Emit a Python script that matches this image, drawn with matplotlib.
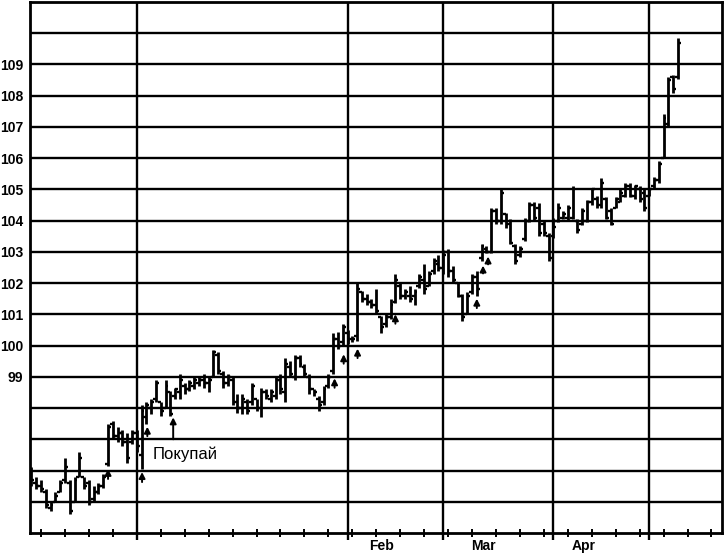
import matplotlib.pyplot as plt

# daily OHLC (day 0 = first bar)
opens = [95.9, 95.6, 95.5, 95.3, 94.8, 95.0, 95.3, 95.7, 95.6, 95.0,
         95.8, 95.8, 95.6, 95.1, 95.3, 95.5, 96.2, 97.5, 97.1, 97.2,
         96.9, 96.9, 97.2, 96.5, 97.7, 98.0, 98.3, 98.2, 98.0, 98.5,
         98.4, 98.5, 98.7, 98.6, 98.7, 98.8, 98.9, 98.8, 99.0, 99.7,
         99.1, 98.8, 98.9, 98.2, 98.0, 98.2, 98.2, 98.3, 98.0, 98.5,
         98.3, 98.4, 98.9, 98.5, 99.3, 99.0, 99.6, 99.3, 99.0, 98.6,
         98.3, 98.2, 98.7, 99.2, 100.2, 100.1, 100.4, 100.2, 100.3, 101.7,
         101.5, 101.4, 101.3, 100.9, 100.7, 100.9, 101.4, 101.9, 101.6, 101.6,
         101.6, 101.9, 102.1, 101.9, 102.4, 102.6, 102.5, 103.0, 102.4, 102.0,
         101.6, 101.0, 101.7, 102.2, 102.8, 103.1, 103.0, 104.3, 104.0, 104.2,
         103.9, 103.2, 102.9, 103.4, 104.0, 104.5, 104.4, 103.9, 103.5, 103.5,
         104.0, 104.1, 104.1, 104.1, 104.0, 103.9, 104.0, 104.6, 104.7, 104.5,
         104.7, 104.3, 104.4, 104.6, 104.8, 105.1, 104.8, 105.0, 104.9, 104.8,
         105.1, 105.3, 106.0, 107.1, 108.6, 108.6]
highs = [96.1, 95.8, 95.7, 95.4, 95.0, 95.3, 95.7, 96.4, 95.7, 95.8,
         96.6, 95.8, 95.7, 95.5, 95.6, 95.9, 97.5, 97.6, 97.4, 97.3,
         97.2, 97.3, 97.3, 98.1, 98.2, 98.3, 98.9, 98.2, 98.9, 98.55,
         98.65, 99.1, 98.8, 98.9, 99.0, 99.0, 99.1, 99.0, 99.85, 99.8,
         99.2, 99.1, 99.0, 98.45, 98.45, 98.3, 98.8, 98.3, 98.65, 98.6,
         98.6, 99.0, 99.1, 99.6, 99.5, 99.7, 99.7, 99.4, 99.1, 98.6,
         98.4, 98.7, 99.1, 100.4, 100.45, 100.7, 100.5, 100.3, 102.0, 101.75,
         101.65, 101.5, 101.8, 100.95, 101.0, 101.5, 102.3, 102.0, 101.8, 101.9,
         101.8, 102.3, 102.6, 102.4, 102.8, 102.9, 103.05, 103.1, 102.55, 102.0,
         101.65, 101.7, 102.3, 102.4, 103.25, 103.2, 104.4, 104.4, 105.05, 104.25,
         104.05, 103.25, 103.2, 104.1, 104.6, 104.6, 104.55, 104.0, 103.6, 104.1,
         104.55, 104.3, 104.5, 105.1, 104.05, 104.4, 104.65, 105.05, 104.8, 105.35,
         104.75, 104.4, 104.75, 105.0, 105.2, 105.2, 105.15, 105.1, 105.0, 105.05,
         105.4, 105.9, 107.4, 108.6, 108.65, 109.85]
lows = [95.5, 95.4, 95.3, 94.8, 94.7, 95.0, 95.3, 95.6, 94.6, 95.0,
        95.8, 95.4, 94.9, 95.0, 95.25, 95.45, 96.15, 97.0, 96.9, 96.8,
        96.25, 96.85, 96.6, 96.05, 97.5, 97.8, 98.2, 97.75, 98.0, 97.75,
        98.3, 98.3, 98.45, 98.55, 98.6, 98.7, 98.65, 98.5, 99.0, 99.1,
        98.65, 98.7, 98.1, 97.85, 97.8, 97.8, 98.1, 97.9, 97.7, 98.3,
        98.2, 98.3, 98.45, 98.2, 99.0, 98.9, 99.3, 99.0, 98.45, 98.4,
        97.9, 98.1, 98.65, 99.1, 99.9, 100.0, 100.05, 100.1, 100.15, 101.4,
        101.3, 101.2, 101.0, 100.4, 100.6, 100.85, 101.35, 101.5, 101.5, 101.4,
        101.3, 101.85, 101.65, 101.9, 102.3, 102.4, 102.3, 102.2, 102.0, 101.55,
        100.8, 101.0, 101.65, 101.6, 102.7, 102.95, 102.95, 103.9, 103.9, 103.75,
        103.25, 102.6, 102.85, 103.35, 103.95, 104.0, 103.5, 103.5, 102.7, 103.45,
        103.95, 104.05, 104.0, 104.05, 103.6, 103.85, 103.95, 104.5, 104.4, 104.4,
        104.05, 103.85, 104.4, 104.6, 104.75, 104.75, 104.7, 104.6, 104.3, 104.8,
        105.05, 105.2, 106.0, 107.0, 108.1, 108.55]
closes = [95.7, 95.5, 95.4, 94.9, 94.9, 95.2, 95.6, 96.1, 94.7, 95.7,
          96.4, 95.5, 95.0, 95.3, 95.5, 95.8, 97.4, 97.1, 97.2, 96.9,
          96.4, 97.2, 96.8, 97.9, 98.1, 98.2, 98.8, 97.9, 98.7, 97.8,
          98.6, 98.9, 98.6, 98.8, 98.9, 98.9, 98.8, 98.9, 99.8, 99.2,
          98.8, 99.0, 98.2, 98.0, 98.3, 97.9, 98.7, 98.0, 98.5, 98.4,
          98.5, 98.9, 98.6, 99.4, 99.1, 99.6, 99.4, 99.1, 98.6, 98.5,
          98.1, 98.6, 99.0, 100.2, 100.0, 100.6, 100.2, 100.2, 101.8, 101.5,
          101.4, 101.3, 101.1, 100.6, 100.9, 101.3, 102.1, 101.6, 101.7, 101.5,
          101.7, 102.2, 101.8, 102.3, 102.7, 102.5, 102.9, 102.4, 102.1, 101.6,
          100.9, 101.6, 102.2, 101.8, 103.2, 103.0, 104.3, 104.0, 104.9, 103.9,
          103.3, 102.7, 103.1, 104.0, 104.5, 104.1, 103.6, 103.6, 102.8, 103.8,
          104.4, 104.2, 104.4, 105.0, 103.7, 104.3, 104.6, 105.0, 104.5, 105.2,
          104.1, 103.9, 104.7, 104.9, 105.1, 104.8, 105.1, 104.7, 104.4, 105.0,
          105.3, 105.8, 107.3, 108.5, 108.2, 109.7]
days = list(range(len(highs)))

# buy signal arrows (day, price at arrow tip, stem length)
arrow_days = [16, 23.1, 24.2, 29.6, 63.3, 65.2, 68.1, 76, 93, 94.3, 95.35]
arrow_tips = [96.05, 95.95, 97.4, 97.7, 98.95, 99.72, 99.9, 101.0, 101.5, 102.56, 102.85]
arrow_stems = [0.32, 0.32, 0.3, 0.7, 0.3, 0.3, 0.3, 0.3, 0.3, 0.25, 0.25]

month_lines = [22, 66, 86, 109, 129]
month_names = ['Feb', 'Mar', 'Apr']
month_pos = [73, 94.4, 115.3]
week_ticks = list(range(2, 144, 5))
price_ticks = list(range(99, 110))
grid_levels = list(range(95, 111))

fig = plt.figure(figsize=(7.25, 5.53), dpi=100)
ax = fig.add_axes([30 / 725, 20 / 553, 692 / 725, 531 / 553])

for lvl in grid_levels:
    ax.axhline(lvl, color='black', lw=1.7, zorder=1)
ax.vlines(month_lines, 93.78, 111, color='black', lw=1.7, zorder=1, clip_on=False)

# OHLC bars
ax.vlines(days, lows, highs, color='black', lw=2.0, zorder=3)
ax.hlines(opens, [d - 0.6 for d in days], days, color='black', lw=1.7, zorder=3)
ax.hlines(closes, days, [d + 0.6 for d in days], color='black', lw=1.7, zorder=3)

for d, tip, stem in zip(arrow_days, arrow_tips, arrow_stems):
    ax.annotate('', xy=(d, tip), xytext=(d, tip - stem),
                arrowprops=dict(arrowstyle='-|>,head_length=0.35,head_width=0.18',
                                color='black', lw=1.4, shrinkA=0, shrinkB=0))

ax.text(25.4, 96.53, 'Покупай', fontsize=12, family='Liberation Sans',
        ha='left', va='center')

ax.set_xlim(-0.3, 144.2)
ax.set_ylim(94, 111)

ax.set_xticks(week_ticks)
ax.tick_params(axis='x', direction='inout', length=6, width=1.4, labelbottom=False)
ax.set_yticks(price_ticks)
ax.set_yticklabels([str(p) for p in price_ticks], fontweight='bold',
                   family='Liberation Sans', fontsize=10)
ax.tick_params(axis='y', length=0, pad=5)

for name, pos in zip(month_names, month_pos):
    ax.text(pos, -0.025, name, transform=ax.get_xaxis_transform(), ha='center',
            va='center', fontweight='bold', family='Liberation Sans', fontsize=10)

for s in ax.spines.values():
    s.set_linewidth(2)

fig.savefig('out.png', dpi=100)
